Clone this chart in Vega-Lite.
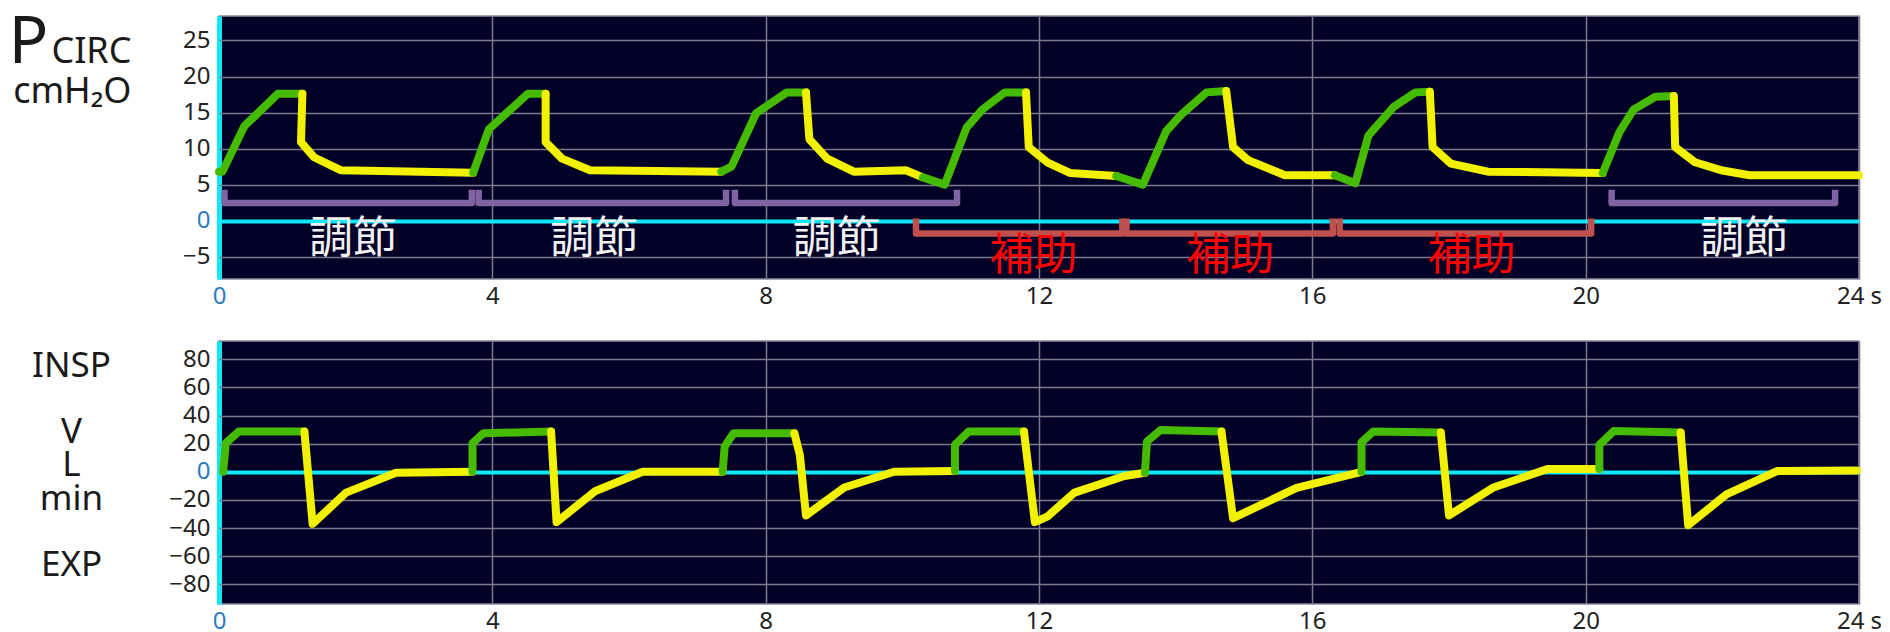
{
  "$schema": "https://vega.github.io/schema/vega-lite/v6.json",
  "background": "white",
  "padding": {"left": 7, "top": 8, "right": 0, "bottom": 0},
  "spacing": 31,
  "config": {
    "view": {"fill": "#030028", "stroke": "#8a8a9a", "strokeWidth": 1.5},
    "font": "Noto Sans",
    "axis": {"labelFont": "Noto Sans", "labelFontSize": 24, "labelColor": "#222222", "ticks": false, "domain": false, "titleFont": "Noto Sans", "titleFontWeight": "normal", "titleColor": "#1a1a1a"}
  },
  "datasets": {
    "pressure": [
      {"t":0,"p":6.8,"s":1,"ph":"insp"},{"t":0.05,"p":6.8,"s":1,"ph":"insp"},{"t":0.37,"p":13.1,"s":1,"ph":"insp"},{"t":0.86,"p":17.6,"s":1,"ph":"insp"},{"t":1.22,"p":17.6,"s":1,"ph":"insp"},
      {"t":1.22,"p":17.6,"s":2,"ph":"exp"},{"t":1.2,"p":10.9,"s":2,"ph":"exp"},{"t":1.39,"p":8.8,"s":2,"ph":"exp"},{"t":1.78,"p":7.0,"s":2,"ph":"exp"},{"t":3.72,"p":6.65,"s":2,"ph":"exp"},
      {"t":3.72,"p":6.65,"s":3,"ph":"insp"},{"t":3.95,"p":12.7,"s":3,"ph":"insp"},{"t":4.52,"p":17.6,"s":3,"ph":"insp"},{"t":4.78,"p":17.6,"s":3,"ph":"insp"},
      {"t":4.78,"p":17.6,"s":4,"ph":"exp"},{"t":4.78,"p":10.9,"s":4,"ph":"exp"},{"t":5.02,"p":8.6,"s":4,"ph":"exp"},{"t":5.43,"p":7.0,"s":4,"ph":"exp"},{"t":7.35,"p":6.8,"s":4,"ph":"exp"},
      {"t":7.35,"p":6.8,"s":5,"ph":"insp"},{"t":7.5,"p":7.5,"s":5,"ph":"insp"},{"t":7.86,"p":14.9,"s":5,"ph":"insp"},{"t":8.31,"p":17.8,"s":5,"ph":"insp"},{"t":8.59,"p":17.8,"s":5,"ph":"insp"},
      {"t":8.59,"p":17.8,"s":6,"ph":"exp"},{"t":8.64,"p":11.3,"s":6,"ph":"exp"},{"t":8.9,"p":8.6,"s":6,"ph":"exp"},{"t":9.29,"p":6.8,"s":6,"ph":"exp"},{"t":10.05,"p":7.0,"s":6,"ph":"exp"},{"t":10.3,"p":6.0,"s":6,"ph":"exp"},
      {"t":10.3,"p":6.0,"s":7,"ph":"insp"},{"t":10.62,"p":5.0,"s":7,"ph":"insp"},{"t":10.94,"p":12.9,"s":7,"ph":"insp"},{"t":11.17,"p":15.4,"s":7,"ph":"insp"},{"t":11.5,"p":17.8,"s":7,"ph":"insp"},{"t":11.81,"p":17.8,"s":7,"ph":"insp"},
      {"t":11.81,"p":17.8,"s":8,"ph":"exp"},{"t":11.85,"p":10.2,"s":8,"ph":"exp"},{"t":12.12,"p":8.1,"s":8,"ph":"exp"},{"t":12.46,"p":6.6,"s":8,"ph":"exp"},{"t":13.13,"p":6.2,"s":8,"ph":"exp"},
      {"t":13.13,"p":6.2,"s":9,"ph":"insp"},{"t":13.52,"p":5.0,"s":9,"ph":"insp"},{"t":13.86,"p":12.4,"s":9,"ph":"insp"},{"t":14.08,"p":14.7,"s":9,"ph":"insp"},{"t":14.45,"p":17.8,"s":9,"ph":"insp"},{"t":14.74,"p":18.0,"s":9,"ph":"insp"},
      {"t":14.74,"p":18.0,"s":10,"ph":"exp"},{"t":14.84,"p":10.2,"s":10,"ph":"exp"},{"t":15.06,"p":8.4,"s":10,"ph":"exp"},{"t":15.6,"p":6.3,"s":10,"ph":"exp"},{"t":16.33,"p":6.3,"s":10,"ph":"exp"},
      {"t":16.33,"p":6.3,"s":11,"ph":"insp"},{"t":16.63,"p":5.2,"s":11,"ph":"insp"},{"t":16.82,"p":11.8,"s":11,"ph":"insp"},{"t":17.19,"p":15.8,"s":11,"ph":"insp"},{"t":17.51,"p":17.8,"s":11,"ph":"insp"},{"t":17.72,"p":17.9,"s":11,"ph":"insp"},
      {"t":17.72,"p":17.9,"s":12,"ph":"exp"},{"t":17.76,"p":10.2,"s":12,"ph":"exp"},{"t":18.03,"p":7.9,"s":12,"ph":"exp"},{"t":18.57,"p":6.8,"s":12,"ph":"exp"},{"t":20.25,"p":6.6,"s":12,"ph":"exp"},
      {"t":20.25,"p":6.6,"s":13,"ph":"insp"},{"t":20.49,"p":12.2,"s":13,"ph":"insp"},{"t":20.7,"p":15.4,"s":13,"ph":"insp"},{"t":21.02,"p":17.2,"s":13,"ph":"insp"},{"t":21.29,"p":17.3,"s":13,"ph":"insp"},
      {"t":21.29,"p":17.3,"s":14,"ph":"exp"},{"t":21.31,"p":10.2,"s":14,"ph":"exp"},{"t":21.6,"p":8.1,"s":14,"ph":"exp"},{"t":21.98,"p":7.0,"s":14,"ph":"exp"},{"t":22.4,"p":6.3,"s":14,"ph":"exp"},{"t":24,"p":6.3,"s":14,"ph":"exp"}
    ],
    "flow": [
      {"t":0.06,"v":0,"s":1,"ph":"insp"},{"t":0.1,"v":20.4,"s":1,"ph":"insp"},{"t":0.29,"v":28.6,"s":1,"ph":"insp"},{"t":1.25,"v":28.6,"s":1,"ph":"insp"},
      {"t":1.25,"v":28.6,"s":2,"ph":"exp"},{"t":1.37,"v":-37,"s":2,"ph":"exp"},{"t":1.86,"v":-14.8,"s":2,"ph":"exp"},{"t":2.59,"v":-0.7,"s":2,"ph":"exp"},{"t":3.71,"v":0,"s":2,"ph":"exp"},
      {"t":3.71,"v":0,"s":3,"ph":"insp"},{"t":3.71,"v":20.4,"s":3,"ph":"insp"},{"t":3.87,"v":27.4,"s":3,"ph":"insp"},{"t":4.86,"v":28.6,"s":3,"ph":"insp"},
      {"t":4.86,"v":28.6,"s":4,"ph":"exp"},{"t":4.94,"v":-35.8,"s":4,"ph":"exp"},{"t":5.51,"v":-13.6,"s":4,"ph":"exp"},{"t":6.2,"v":0,"s":4,"ph":"exp"},{"t":7.37,"v":0,"s":4,"ph":"exp"},
      {"t":7.37,"v":0,"s":5,"ph":"insp"},{"t":7.4,"v":18,"s":5,"ph":"insp"},{"t":7.53,"v":27.4,"s":5,"ph":"insp"},{"t":8.42,"v":27.4,"s":5,"ph":"insp"},
      {"t":8.42,"v":27.4,"s":6,"ph":"exp"},{"t":8.5,"v":12.2,"s":6,"ph":"exp"},{"t":8.59,"v":-31,"s":6,"ph":"exp"},{"t":9.15,"v":-11.2,"s":6,"ph":"exp"},{"t":9.88,"v":0,"s":6,"ph":"exp"},{"t":10.77,"v":0.5,"s":6,"ph":"exp"},
      {"t":10.77,"v":0.5,"s":7,"ph":"insp"},{"t":10.77,"v":19.2,"s":7,"ph":"insp"},{"t":10.97,"v":28.6,"s":7,"ph":"insp"},{"t":11.78,"v":28.6,"s":7,"ph":"insp"},
      {"t":11.78,"v":28.6,"s":8,"ph":"exp"},{"t":11.94,"v":-35.8,"s":8,"ph":"exp"},{"t":12.12,"v":-31.9,"s":8,"ph":"exp"},{"t":12.52,"v":-14.8,"s":8,"ph":"exp"},{"t":13.25,"v":-3,"s":8,"ph":"exp"},{"t":13.55,"v":-0.7,"s":8,"ph":"exp"},
      {"t":13.55,"v":-0.7,"s":9,"ph":"insp"},{"t":13.58,"v":21.5,"s":9,"ph":"insp"},{"t":13.78,"v":29.7,"s":9,"ph":"insp"},{"t":14.67,"v":28.6,"s":9,"ph":"insp"},
      {"t":14.67,"v":28.6,"s":10,"ph":"exp"},{"t":14.84,"v":-33,"s":10,"ph":"exp"},{"t":15.77,"v":-11.4,"s":10,"ph":"exp"},{"t":16.72,"v":0,"s":10,"ph":"exp"},
      {"t":16.72,"v":0,"s":11,"ph":"insp"},{"t":16.72,"v":21,"s":11,"ph":"insp"},{"t":16.89,"v":28.6,"s":11,"ph":"insp"},{"t":17.88,"v":28,"s":11,"ph":"insp"},
      {"t":17.88,"v":28,"s":12,"ph":"exp"},{"t":18.0,"v":-31,"s":12,"ph":"exp"},{"t":18.64,"v":-11.4,"s":12,"ph":"exp"},{"t":19.44,"v":2,"s":12,"ph":"exp"},{"t":20.2,"v":2,"s":12,"ph":"exp"},
      {"t":20.2,"v":2,"s":13,"ph":"insp"},{"t":20.2,"v":19.2,"s":13,"ph":"insp"},{"t":20.41,"v":29,"s":13,"ph":"insp"},{"t":21.39,"v":28,"s":13,"ph":"insp"},
      {"t":21.39,"v":28,"s":14,"ph":"exp"},{"t":21.5,"v":-38,"s":14,"ph":"exp"},{"t":22.06,"v":-16,"s":14,"ph":"exp"},{"t":22.8,"v":0.5,"s":14,"ph":"exp"},{"t":23.97,"v":1,"s":14,"ph":"exp"}
    ],
    "brackets": [
      {"b":1,"k":"調節","t":0.08,"y":4.3},{"b":1,"k":"調節","t":0.08,"y":2.45},{"b":1,"k":"調節","t":3.7,"y":2.45},{"b":1,"k":"調節","t":3.7,"y":4.3},
      {"b":2,"k":"調節","t":3.8,"y":4.3},{"b":2,"k":"調節","t":3.8,"y":2.45},{"b":2,"k":"調節","t":7.42,"y":2.45},{"b":2,"k":"調節","t":7.42,"y":4.3},
      {"b":3,"k":"調節","t":7.55,"y":4.3},{"b":3,"k":"調節","t":7.55,"y":2.45},{"b":3,"k":"調節","t":10.8,"y":2.45},{"b":3,"k":"調節","t":10.8,"y":4.3},
      {"b":4,"k":"調節","t":20.38,"y":4.3},{"b":4,"k":"調節","t":20.38,"y":2.45},{"b":4,"k":"調節","t":23.65,"y":2.45},{"b":4,"k":"調節","t":23.65,"y":4.3},
      {"b":5,"k":"補助","t":10.2,"y":0.3},{"b":5,"k":"補助","t":10.2,"y":-1.8},{"b":5,"k":"補助","t":13.22,"y":-1.8},{"b":5,"k":"補助","t":13.22,"y":0.3},
      {"b":6,"k":"補助","t":13.28,"y":0.3},{"b":6,"k":"補助","t":13.28,"y":-1.8},{"b":6,"k":"補助","t":16.3,"y":-1.8},{"b":6,"k":"補助","t":16.3,"y":0.3},
      {"b":7,"k":"補助","t":16.4,"y":0.3},{"b":7,"k":"補助","t":16.4,"y":-1.8},{"b":7,"k":"補助","t":20.08,"y":-1.8},{"b":7,"k":"補助","t":20.08,"y":0.3}
    ],
    "labels": [
      {"t":1.96,"y":-2.7,"k":"調節"},{"t":5.49,"y":-2.7,"k":"調節"},{"t":9.04,"y":-2.7,"k":"調節"},{"t":22.32,"y":-2.7,"k":"調節"},
      {"t":11.92,"y":-5.0,"k":"補助"},{"t":14.8,"y":-5.0,"k":"補助"},{"t":18.33,"y":-5.0,"k":"補助"}
    ]
  },
  "vconcat": [
    {
      "width": 1640,
      "height": 263,
      "layer": [
        {
          "data": {"name": "pressure"},
          "mark": {"type": "line", "strokeWidth": 8, "strokeJoin": "round", "strokeCap": "round"},
          "encoding": {
            "x": {"field": "t", "type": "quantitative", "scale": {"domain": [0, 24], "nice": false, "zero": false},
              "axis": {"values": [0,4,8,12,16,20,24], "title": null, "labelPadding": 5, "labelFlush": false, "format": "d",
                "labelExpr": "datum.value == 24 ? '\u00a0\u00a0\u00a024 s' : format(datum.value, 'd')",
                "labelColor": {"condition": {"test": "datum.value == 0", "value": "#2a7cc0"}, "value": "#222222"},
                "grid": true,
                "gridColor": {"condition": {"test": "datum.value == 0", "value": "#10e8f8"}, "value": "#7a7a8a"},
                "gridWidth": {"condition": {"test": "datum.value == 0", "value": 5}, "value": 1.5}}},
            "y": {"field": "p", "type": "quantitative", "scale": {"domain": [-8.1, 28.4], "nice": false, "zero": false},
              "axis": {"values": [-5,0,5,10,15,20,25], "labelPadding": 9, "format": "d",
                "labelColor": {"condition": {"test": "datum.value == 0", "value": "#2a7cc0"}, "value": "#222222"},
                "grid": true,
                "gridColor": {"condition": {"test": "datum.value == 0", "value": "#10e8f8"}, "value": "#7a7a8a"},
                "gridWidth": {"condition": {"test": "datum.value == 0", "value": 4}, "value": 1.5},
                "title": "P", "titleFontSize": 66, "titleAngle": 0, "titleAlign": "left", "titleBaseline": "alphabetic", "titleX": -211, "titleY": 46}},
            "color": {"field": "ph", "type": "nominal", "scale": {"domain": ["insp", "exp"], "range": ["#45bb00", "#f2f200"]}, "legend": null},
            "detail": {"field": "s", "type": "nominal"},
            "order": {"value": null}
          }
        },
        {
          "data": {"name": "brackets"},
          "mark": {"type": "line", "strokeWidth": 6.5, "strokeJoin": "round", "strokeCap": "butt"},
          "encoding": {
            "x": {"field": "t", "type": "quantitative", "scale": {"domain": [0, 24], "nice": false, "zero": false}},
            "y": {"field": "y", "type": "quantitative", "scale": {"domain": [-8.1, 28.4], "nice": false, "zero": false}, "axis": null},
            "stroke": {"field": "k", "type": "nominal", "scale": {"domain": ["調節", "補助"], "range": ["#8064a2", "#c0504d"]}, "legend": null},
            "detail": {"field": "b", "type": "nominal"},
            "order": {"value": null}
          }
        },
        {
          "data": {"name": "labels"},
          "mark": {"type": "text", "fontSize": 44, "font": "Noto Sans CJK JP", "baseline": "middle", "align": "center"},
          "encoding": {
            "x": {"field": "t", "type": "quantitative", "scale": {"domain": [0, 24], "nice": false, "zero": false}},
            "y": {"field": "y", "type": "quantitative", "scale": {"domain": [-8.1, 28.4], "nice": false, "zero": false},
              "axis": {"orient": "left", "labels": false, "grid": false, "ticks": false, "domain": false,
                "title": ["CIRC", "cmH₂O"], "titleFontSize": 36, "titleLineHeight": 40, "titleAngle": 0, "titleAlign": "right", "titleBaseline": "alphabetic", "titleX": -88, "titleY": 46}},
            "text": {"field": "k", "type": "nominal"},
            "fill": {"field": "k", "type": "nominal", "scale": {"domain": ["調節", "補助"], "range": ["#f0f0f0", "#ff0000"]}, "legend": null}
          }
        }
      ],
      "resolve": {"axis": {"y": "independent"}}
    },
    {
      "width": 1640,
      "height": 263,
      "data": {"name": "flow"},
      "mark": {"type": "line", "strokeWidth": 8, "strokeJoin": "round", "strokeCap": "round"},
      "encoding": {
        "x": {"field": "t", "type": "quantitative", "scale": {"domain": [0, 24], "nice": false, "zero": false},
          "axis": {"values": [0,4,8,12,16,20,24], "title": null, "labelPadding": 5, "labelFlush": false, "format": "d",
            "labelExpr": "datum.value == 24 ? '\u00a0\u00a0\u00a024 s' : format(datum.value, 'd')",
            "labelColor": {"condition": {"test": "datum.value == 0", "value": "#2a7cc0"}, "value": "#222222"},
            "grid": true,
            "gridColor": {"condition": {"test": "datum.value == 0", "value": "#10e8f8"}, "value": "#7a7a8a"},
            "gridWidth": {"condition": {"test": "datum.value == 0", "value": 5}, "value": 1.5}}},
        "y": {"field": "v", "type": "quantitative", "scale": {"domain": [-94, 93], "nice": false, "zero": false},
          "axis": {"values": [-80,-60,-40,-20,0,20,40,60,80], "labelPadding": 9, "format": "d",
            "labelColor": {"condition": {"test": "datum.value == 0", "value": "#2a7cc0"}, "value": "#222222"},
            "grid": true,
            "gridColor": {"condition": {"test": "datum.value == 0", "value": "#10e8f8"}, "value": "#7a7a8a"},
            "gridWidth": {"condition": {"test": "datum.value == 0", "value": 4}, "value": 1.5},
            "title": ["INSP", "\u200b", "V", "L", "min", "\u200b", "EXP"], "titleFontSize": 35, "titleLineHeight": 33.3, "titleAngle": 0, "titleAlign": "center", "titleBaseline": "alphabetic", "titleX": -148, "titleY": 35}},
        "color": {"field": "ph", "type": "nominal", "scale": {"domain": ["insp", "exp"], "range": ["#45bb00", "#f2f200"]}, "legend": null},
        "detail": {"field": "s", "type": "nominal"},
        "order": {"value": null}
      }
    }
  ]
}
